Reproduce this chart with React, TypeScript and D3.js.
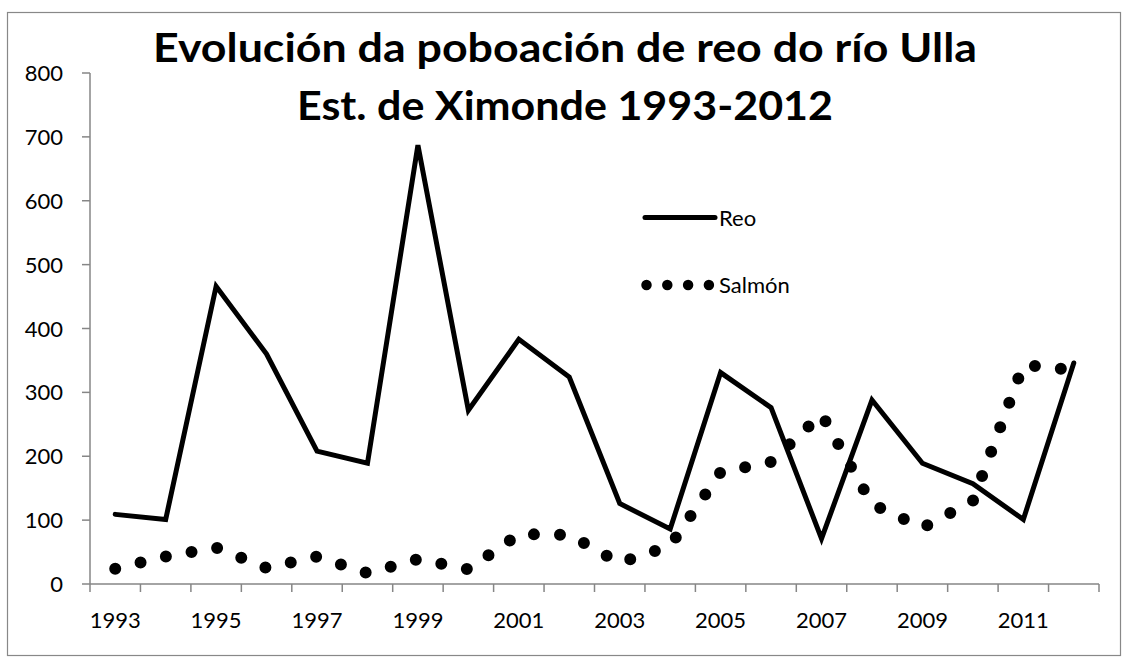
import React from "react";
import * as d3 from "d3";

const years = ["1993","1994","1995","1996","1997","1998","1999","2000","2001","2002","2003","2004","2005","2006","2007","2008","2009","2010","2011","2012"];
const reo = [109, 101, 466, 360, 208, 189, 687, 272, 383, 324, 126, 86, 331, 276, 71, 288, 189, 157, 101, 346];
const salmon = [24, 43, 57, 25, 43, 17, 39, 23, 78, 77, 33, 60, 175, 191, 266, 125, 88, 130, 343, 335];
const yTicks = [0, 100, 200, 300, 400, 500, 600, 700, 800];
const titleLines = ["Evolución da poboación de reo do río Ulla", "Est. de Ximonde 1993-2012"];
const legendNames = ["Reo", "Salmón"];

const FONT = "Lato, 'Open Sans', sans-serif";
const AXIS = "#868686";

export default function App() {
  const left = 90, right = 1099, top = 73, bottom = 584;
  const x = d3.scaleBand<string>().domain(years).range([left, right]).padding(0);
  const y = d3.scaleLinear().domain([0, 800]).range([bottom, top]);
  const cx = (yr: string) => (x(yr) as number) + x.bandwidth() / 2;
  const line = d3.line<number>().x((_, i) => cx(years[i])).y((v) => y(v));
  const boundaries = [...years.map((yr) => x(yr) as number), right];

  return (
    <svg width={1130} height={664} style={{ position: "absolute", left: 0, top: 0, background: "#fff" }}>
      <rect x={7.5} y={12.5} width={1113} height={643} fill="#fff" stroke="#888" strokeWidth={1.2} />
      <text x={565} y={62} textAnchor="middle" fontFamily={FONT} fontWeight={700} fontSize={40}
        textLength={824} lengthAdjust="spacingAndGlyphs">{titleLines[0]}</text>
      <text x={565} y={120} textAnchor="middle" fontFamily={FONT} fontWeight={700} fontSize={40}
        textLength={536} lengthAdjust="spacingAndGlyphs">{titleLines[1]}</text>

      {/* y axis */}
      <line x1={left} x2={left} y1={top} y2={bottom} stroke={AXIS} strokeWidth={1.5} />
      {yTicks.map((t) => (
        <g key={t}>
          <line x1={left - 8} x2={left} y1={y(t)} y2={y(t)} stroke={AXIS} strokeWidth={1.5} />
          <text x={63} y={y(t) + 8} textAnchor="end" fontFamily={FONT} fontSize={22} fill="#000">{t}</text>
        </g>
      ))}

      {/* x axis */}
      <line x1={left} x2={right} y1={bottom} y2={bottom} stroke={AXIS} strokeWidth={1.5} />
      {boundaries.map((b, i) => (
        <line key={i} x1={b} x2={b} y1={bottom} y2={bottom + 8} stroke={AXIS} strokeWidth={1.5} />
      ))}
      {years.map((yr, i) => i % 2 === 0 ? (
        <text key={yr} x={cx(yr)} y={628} textAnchor="middle" fontFamily={FONT} fontSize={22} fill="#000">{yr}</text>
      ) : null)}

      {/* series */}
      <path d={line(reo) || ""} fill="none" stroke="#000" strokeWidth={5} strokeLinejoin="miter" strokeLinecap="round" />
      <path d={line(salmon) || ""} fill="none" stroke="#000" strokeWidth={12} strokeLinecap="round" strokeDasharray="0 26.05" />

      {/* legend */}
      <line x1={645} x2={715} y1={217.5} y2={217.5} stroke="#000" strokeWidth={5} strokeLinecap="round" />
      <text x={719} y={226} fontFamily={FONT} fontSize={22} fill="#000">{legendNames[0]}</text>
      <line x1={646.5} x2={710} y1={285} y2={285} stroke="#000" strokeWidth={10.5} strokeLinecap="round" strokeDasharray="0 20.8" />
      <text x={719} y={293} fontFamily={FONT} fontSize={22} fill="#000">{legendNames[1]}</text>
    </svg>
  );
}
